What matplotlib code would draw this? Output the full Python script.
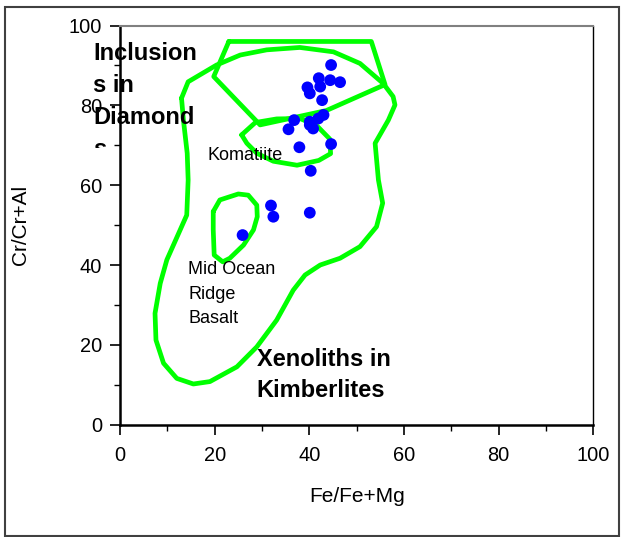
import matplotlib
matplotlib.use("Agg")
import matplotlib.pyplot as plt
from matplotlib.patches import Rectangle
from matplotlib.transforms import Bbox, TransformedBbox

plt.rcParams['font.family'] = ['Liberation Sans', 'DejaVu Sans']

# ---- data ----
fe_mg = [44.6, 42.0, 44.4, 46.5, 39.6, 40.1, 42.7, 42.3, 43.0, 41.9, 40.1, 40.8,
         40.1, 36.8, 35.6, 37.9, 44.6, 40.3, 31.9, 32.4, 40.1, 25.9]
cr_al = [90.1, 86.8, 86.3, 85.8, 84.5, 83.0, 81.3, 84.7, 77.6, 76.7, 75.9, 74.2,
         75.1, 76.3, 74.0, 69.5, 70.3, 63.6, 54.9, 52.1, 53.1, 47.5]

# Xenoliths in Kimberlites field outline
xeno_x = [13.0, 14.4, 20.4, 25.4, 31.0, 38.0, 45.1, 50.7, 55.6, 57.7, 58.1, 56.7,
          53.9, 54.6, 55.5, 54.2, 50.7, 46.5, 42.3, 39.1, 36.6, 33.1, 28.9, 24.7,
          19.0, 15.5, 12.0, 9.2, 7.6, 7.4, 8.5, 9.9, 14.1, 14.4, 14.2, 13.4, 13.0]
xeno_y = [81.8, 85.9, 90.1, 92.6, 93.9, 94.5, 93.4, 90.5, 85.5, 82.2, 80.1, 76.3,
          70.5, 61.3, 55.5, 49.6, 44.6, 41.7, 40.0, 37.5, 33.7, 26.2, 19.5, 14.5,
          10.8, 10.2, 11.6, 15.4, 21.2, 27.9, 35.4, 41.3, 52.5, 61.3, 68.0, 76.3, 81.8]

# Inclusions in Diamonds field outline
diam_x = [23.0, 53.1, 56.0, 43.6, 29.6, 19.8, 23.0]
diam_y = [96.0, 96.0, 85.2, 78.7, 75.1, 87.2, 96.0]

# Komatiite field outline
koma_x = [25.7, 28.6, 33.1, 38.0, 41.5, 44.3, 44.5, 42.0, 37.4, 32.4, 28.9, 26.8, 25.7]
koma_y = [72.6, 75.7, 76.6, 76.7, 75.0, 71.6, 67.9, 66.2, 65.0, 66.0, 68.0, 70.5, 72.6]

# Mid Ocean Ridge Basalt field outline
morb_x = [19.7, 21.1, 25.0, 27.1, 28.9, 29.0, 28.2, 26.1, 23.2, 21.7, 19.9, 19.7, 19.7]
morb_y = [53.4, 56.3, 57.8, 57.5, 55.0, 52.1, 48.8, 45.0, 41.7, 40.8, 42.5, 48.8, 53.4]

x_ticks = [0, 20, 40, 60, 80, 100]
y_ticks = [0, 20, 40, 60, 80, 100]

# ---- figure ----
fig = plt.figure(figsize=(6.22, 5.37), dpi=100)
ax = fig.add_axes([120/622, 1-424.7/537, (593.3-120)/622, (424.7-25.5)/537])

green = '#00FF00'
for xs, ys in [(xeno_x, xeno_y), (diam_x, diam_y), (koma_x, koma_y), (morb_x, morb_y)]:
    ax.plot(xs, ys, color=green, lw=3.4, solid_joinstyle='round',
            solid_capstyle='round', zorder=2)

ax.scatter(fe_mg, cr_al, s=72, color='#0000FF', edgecolors='none', zorder=3)

ax.set_xlim(0, 100)
ax.set_ylim(0, 100)
ax.set_xticks(x_ticks)
ax.set_yticks(y_ticks)
ax.set_xticks([10, 30, 50, 70, 90], minor=True)
ax.set_yticks([10, 30, 50, 70, 90], minor=True)
ax.tick_params(which='major', direction='out', length=7, width=1.2,
               labelsize=14.4, pad=8)
ax.tick_params(axis='y', which='major', pad=6)
ax.tick_params(which='minor', direction='out', length=4.5, width=1.0)

for s in ['left', 'bottom']:
    ax.spines[s].set_linewidth(1.8)
    ax.spines[s].set_color('black')
ax.spines['top'].set_color('#808080')
ax.spines['top'].set_linewidth(1.5)
ax.spines['right'].set_color('black')
ax.spines['right'].set_linewidth(1.0)

ax.set_xlabel('Fe/Fe+Mg', fontsize=15, labelpad=16)
ax.set_ylabel('Cr/Cr+Al', fontsize=15, labelpad=28)

# annotations
t = ax.text(-5.6, 95.8, 'Inclusion\ns in\nDiamond\ns', fontsize=17,
            fontweight='bold', ha='left', va='top', linespacing=1.5, zorder=5)
t.set_clip_on(True)
t.set_clip_path(None)
t.set_clip_box(TransformedBbox(Bbox([[-20, 69.3], [60, 110]]), ax.transData))

ax.text(28.9, 19.1, 'Xenoliths in\nKimberlites', fontsize=17, fontweight='bold',
        ha='left', va='top', linespacing=1.44, zorder=5)
ax.text(18.4, 69.6, 'Komatiite', fontsize=13, ha='left', va='top', zorder=5)
ax.text(14.4, 41.0, 'Mid Ocean\nRidge\nBasalt', fontsize=13, ha='left', va='top',
        linespacing=1.59, zorder=5)

# outer frame
fig.patches.append(Rectangle((5/622, 1-535.5/537), (619-5)/622, (535.5-7)/537,
                             transform=fig.transFigure, fill=False,
                             edgecolor='#404040', lw=1.5))

fig.savefig('out.png', dpi=100)
